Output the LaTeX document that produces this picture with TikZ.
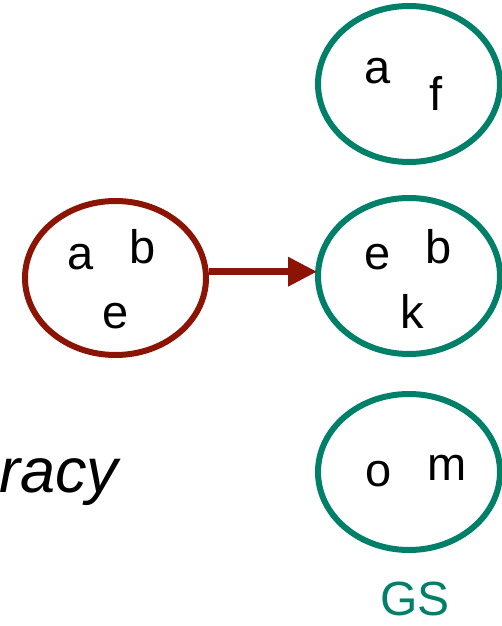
\documentclass[tikz,border=0pt]{standalone}
\usepackage{fontspec}
\setmainfont{Liberation Sans}
\usetikzlibrary{shapes.geometric,arrows.meta}
\definecolor{setred}{RGB}{140,20,5}
\definecolor{setgreen}{RGB}{0,128,104}
\tikzset{
  setbox/.style={ellipse, draw, line width=6pt, minimum width=182pt, minimum height=156pt, inner sep=0pt},
  redset/.style={setbox, draw=setred, minimum height=154pt, minimum width=181pt},
  greenset/.style={setbox, draw=setgreen},
  elem/.style={anchor=base, inner sep=0pt, font=\fontsize{47}{47}\selectfont},
  link/.style={draw=setred, line width=6.5pt, -{Triangle[length=29pt,width=28pt]}}
}
\begin{document}
\begin{tikzpicture}[x=1pt,y=-1pt]
\useasboundingbox (0,0) rectangle (502,626);
% sets
\node[redset]   (src)  at (115.5,278) {};
\node[greenset] (gtop) at (409,84)  {};
\node[greenset] (gmid) at (409,276) {};
\node[greenset] (gbot) at (409,472) {};
% elements of the source set
\node[elem] (sa) at (81,269)  {a};
\node[elem] (sb) at (143,263) {b};
\node[elem] (se) at (116,328) {e};
% elements of the target sets
\node[elem] (ta) at (378,83)  {a};
\node[elem] (tf) at (436,110) {f};
\node[elem] (me) at (378,269) {e};
\node[elem] (mb) at (439,263) {b};
\node[elem] (mk) at (412,328) {k};
\node[elem] (bo) at (379,486) {o};
\node[elem] (bm) at (447,480) {m};
% mapping (horizontal, slightly above the centres)
\draw[link] ([yshift=6.3pt]src.east) -- ([yshift=4.3pt,xshift=2pt]gmid.west);
% labels
\node[anchor=base, inner sep=0pt, text=setgreen, font=\fontsize{48}{48}\selectfont] (gs) at (415,615) {GS};
\node[anchor=base west, inner sep=0pt, font=\fontsize{63}{63}\selectfont\itshape] (acc) at (-1,492) {racy};
\end{tikzpicture}
\end{document}
